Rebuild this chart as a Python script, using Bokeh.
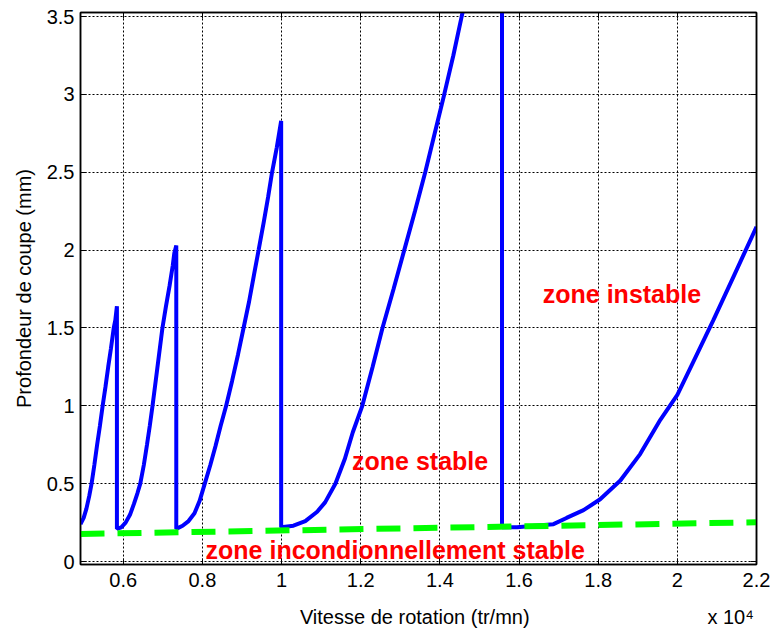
from bokeh.plotting import figure
from bokeh.models import (Range1d, FixedTicker, CustomJSTickFormatter, LinearAxis,
                          ColumnDataSource)
from bokeh.core.properties import value
from bokeh.embed import file_html
from bokeh.resources import INLINE

# ---- data (speed in x 10^4 tr/mn, depth in mm) ----
lobe1_x = [0.492, 0.500, 0.507, 0.514, 0.520, 0.527, 0.534, 0.541, 0.548, 0.555, 0.562, 0.569, 0.576, 0.580, 0.584]
lobe1_y = [0.24, 0.28, 0.34, 0.42, 0.50, 0.62, 0.75, 0.87, 1.00, 1.12, 1.25, 1.37, 1.50, 1.55, 1.64]
lobe2_x = [0.584, 0.595, 0.606, 0.617, 0.627, 0.636, 0.643, 0.652, 0.660, 0.667, 0.674, 0.682, 0.690,
           0.699, 0.708, 0.717, 0.725, 0.729, 0.734]
lobe2_y = [0.21, 0.22, 0.25, 0.30, 0.37, 0.44, 0.50, 0.62, 0.75, 0.87, 1.00, 1.16, 1.32,
           1.50, 1.64, 1.77, 1.90, 1.98, 2.03]
lobe3_x = [0.734, 0.750, 0.765, 0.780, 0.793, 0.806, 0.820, 0.833, 0.846, 0.860, 0.875, 0.890, 0.904,
           0.918, 0.931, 0.942, 0.955, 0.966, 0.976, 0.988, 0.999]
lobe3_y = [0.21, 0.23, 0.26, 0.31, 0.39, 0.50, 0.62, 0.74, 0.87, 1.00, 1.16, 1.33, 1.50,
           1.67, 1.85, 2.00, 2.18, 2.34, 2.50, 2.66, 2.83]
lobe4_x = [0.999, 1.030, 1.060, 1.090, 1.110, 1.136, 1.160, 1.180, 1.204, 1.230, 1.255, 1.283, 1.310,
           1.337, 1.363, 1.387, 1.411, 1.434, 1.455, 1.500, 1.557]
lobe4_y = [0.22, 0.23, 0.26, 0.32, 0.38, 0.50, 0.66, 0.83, 1.00, 1.25, 1.50, 1.75, 2.00,
           2.25, 2.50, 2.75, 3.00, 3.25, 3.50, 4.00, 4.60]
lobe5_x = [1.557, 1.595, 1.640, 1.687, 1.720, 1.763, 1.805, 1.856, 1.906, 1.957, 2.000, 2.040, 2.091, 2.142, 2.200]
lobe5_y = [0.22, 0.22, 0.23, 0.24, 0.28, 0.33, 0.40, 0.52, 0.69, 0.91, 1.07, 1.28, 1.55, 1.83, 2.15]

# unconditional stability limit
limit_x = [0.492, 2.200]
limit_y = [0.177, 0.252]

x_ticks = [0.6, 0.8, 1.0, 1.2, 1.4, 1.6, 1.8, 2.0, 2.2]
y_ticks = [0, 0.5, 1, 1.5, 2, 2.5, 3, 3.5]

zone_texts = ["zone instable", "zone stable", "zone  incondionnellement stable"]
zone_x = [1.660, 1.178, 0.808]
zone_y = [1.720, 0.645, 0.072]

x_label = "Vitesse de rotation (tr/mn)"
x_multiplier = "x 10\u2074"
y_label = "Profondeur de coupe (mm)"

curve_x = lobe1_x + lobe2_x + lobe3_x + lobe4_x + lobe5_x
curve_y = lobe1_y + lobe2_y + lobe3_y + lobe4_y + lobe5_y

FONT = "Liberation Sans"
NBSP = "\u00a0"

p = figure(width=770, height=631, output_backend="svg", toolbar_location=None,
           x_range=Range1d(0.492, 2.2), y_range=Range1d(-0.019, 3.526),
           min_border_left=80, min_border_right=14, min_border_top=12, min_border_bottom=67,
           background_fill_color="white", border_fill_color="white")

p.outline_line_color = "black"
p.outline_line_width = 1.5

fmt = CustomJSTickFormatter(code="return String(Number(tick.toFixed(2)));")
blank = CustomJSTickFormatter(code="return '';")

for ax, ticks in ((p.xaxis[0], x_ticks), (p.yaxis[0], y_ticks)):
    ax.ticker = FixedTicker(ticks=ticks)
    ax.formatter = fmt
    ax.major_tick_in = 6
    ax.major_tick_out = 0
    ax.minor_tick_line_color = None
    ax.axis_line_width = 1.5
    ax.major_tick_line_width = 1
    ax.major_label_text_font = FONT
    ax.major_label_text_font_size = "20px"
    ax.major_label_text_color = "black"
    ax.axis_label_text_font = FONT
    ax.axis_label_text_font_size = "20px"
    ax.axis_label_text_font_style = "normal"
    ax.axis_label_text_color = "black"

# x label centred on the frame, with the x 10^4 multiplier pushed to the right end
p.xaxis.axis_label = NBSP * 39 + x_label + NBSP * 32 + x_multiplier
p.yaxis.axis_label = y_label
p.xaxis.major_label_standoff = 8
p.xaxis.axis_label_standoff = 16
p.yaxis.major_label_standoff = 6
p.yaxis.axis_label_standoff = 9

for loc, ticks in (("above", x_ticks), ("right", y_ticks)):
    ax = LinearAxis(ticker=FixedTicker(ticks=ticks), formatter=blank,
                    major_tick_in=6, major_tick_out=0,
                    minor_tick_line_color=None, axis_line_width=1.5,
                    major_label_standoff=0)
    p.add_layout(ax, loc)

for g, ticks in ((p.xgrid[0], x_ticks), (p.ygrid[0], y_ticks)):
    g.ticker = FixedTicker(ticks=ticks)
    g.grid_line_color = "black"
    g.grid_line_dash = "2 2"
    g.grid_line_width = 1
    g.grid_line_alpha = 1.0

p.line(curve_x, curve_y, line_color="#0000FF", line_width=4)
p.line(limit_x, limit_y, line_color="#00FF00", line_width=6, line_dash="24 13")

src = ColumnDataSource(dict(x=zone_x, y=zone_y, t=zone_texts))
p.text(x="x", y="y", text="t", source=src, text_color="#FF0000",
       text_font=value(FONT), text_font_style="bold", text_font_size="25px",
       text_baseline="alphabetic", text_align="left")

open("out.html", "w").write(file_html(p, INLINE))
